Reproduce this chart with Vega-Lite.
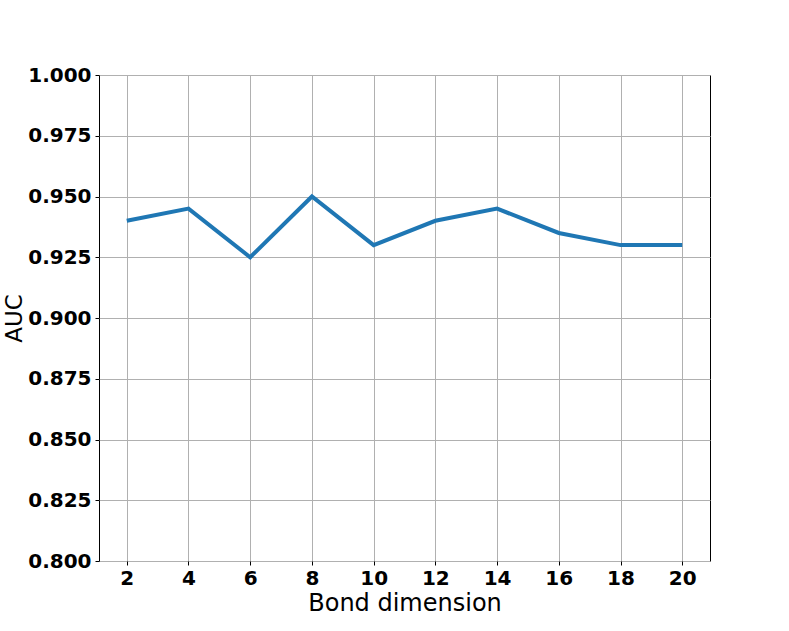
{
  "$schema": "https://vega.github.io/schema/vega-lite/v6.json",
  "autosize": {"type": "none"},
  "padding": {"left": 99, "top": 75, "right": 79, "bottom": 70},
  "width": 611,
  "height": 486,
  "background": "white",
  "config": {
    "view": {"stroke": "black", "strokeWidth": 1},
    "font": "DejaVu Sans"
  },
  "data": {
    "values": [
      {"bond": 2, "auc": 0.940},
      {"bond": 4, "auc": 0.945},
      {"bond": 6, "auc": 0.925},
      {"bond": 8, "auc": 0.950},
      {"bond": 10, "auc": 0.930},
      {"bond": 12, "auc": 0.940},
      {"bond": 14, "auc": 0.945},
      {"bond": 16, "auc": 0.935},
      {"bond": 18, "auc": 0.930},
      {"bond": 20, "auc": 0.930}
    ]
  },
  "mark": {"type": "line", "color": "#1f77b4", "strokeWidth": 4},
  "encoding": {
    "x": {
      "field": "bond",
      "type": "quantitative",
      "scale": {"domain": [1.1, 20.9], "nice": false, "zero": false},
      "axis": {
        "title": "Bond dimension",
        "values": [2, 4, 6, 8, 10, 12, 14, 16, 18, 20],
        "labelFont": "DejaVu Sans",
        "labelFontWeight": "bold",
        "labelFontSize": 20,
        "labelColor": "black",
        "labelPadding": 3,
        "titleFont": "DejaVu Sans",
        "titleFontWeight": "normal",
        "titleFontSize": 24,
        "titleColor": "black",
        "titlePadding": 3,
        "tickSize": 4,
        "tickColor": "black",
        "domain": false,
        "grid": true,
        "gridColor": "#b0b0b0",
        "gridWidth": 1
      }
    },
    "y": {
      "field": "auc",
      "type": "quantitative",
      "scale": {"domain": [0.8, 1.0], "nice": false, "zero": false},
      "axis": {
        "title": "AUC",
        "values": [0.8, 0.825, 0.85, 0.875, 0.9, 0.925, 0.95, 0.975, 1.0],
        "format": ".3f",
        "labelFont": "DejaVu Sans",
        "labelFontWeight": "bold",
        "labelFontSize": 20,
        "labelColor": "black",
        "labelPadding": 4,
        "titleFont": "DejaVu Sans",
        "titleFontWeight": "normal",
        "titleFontSize": 23,
        "titleColor": "black",
        "titlePadding": 1,
        "tickSize": 4,
        "tickColor": "black",
        "domain": false,
        "grid": true,
        "gridColor": "#b0b0b0",
        "gridWidth": 1
      }
    }
  }
}
